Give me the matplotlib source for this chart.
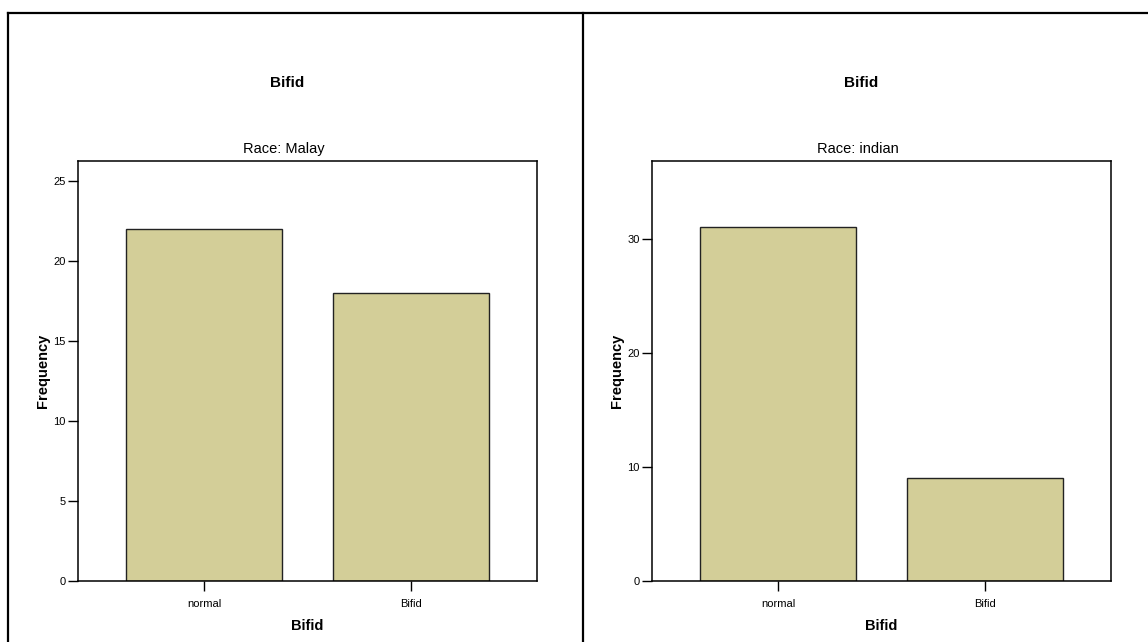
import matplotlib
matplotlib.use('Agg')
import matplotlib.pyplot as plt
from matplotlib.lines import Line2D

# data
categories = ['normal', 'Bifid']
malay = [22, 18]
indian = [31, 9]
races = ['Malay', 'indian']
y_ticks_malay = [0, 5, 10, 15, 20, 25]
y_ticks_indian = [0, 10, 20, 30]

W, H = 1148, 642
plt.rcParams['font.family'] = ['Liberation Sans', 'DejaVu Sans']

fig = plt.figure(figsize=(W / 100, H / 100), dpi=100)


def fx(px):
    return px / W


def fy(py):
    return 1 - py / H


bar_color = '#d3ce98'


def panel(x0, counts, race, yticks, ymax):
    # axes box in pixels: left, top, right, bottom
    left, top, right, bottom = x0 + 71, 161, x0 + 530, 581
    ax = fig.add_axes([fx(left), fy(bottom), fx(right - left), (bottom - top) / H])
    ax.bar(range(len(categories)), counts, width=0.75, color=bar_color,
           edgecolor='#222222', linewidth=1.0, zorder=2)
    ax.set_xlim(-0.6087, 1.6087)
    ax.set_ylim(0, ymax)
    ax.set_xticks(range(len(categories)))
    ax.set_xticklabels(categories)
    ax.set_yticks(yticks)
    ax.tick_params(axis='both', labelsize=8, length=7, width=1, color='black', pad=2)
    ax.tick_params(axis='x', pad=6)
    for s in ax.spines.values():
        s.set_linewidth(1.1)
        s.set_color('black')
    ax.set_ylabel('Frequency', fontsize=10.5, fontweight='bold', labelpad=2)
    ax.set_xlabel('Bifid', fontsize=10.5, fontweight='bold', labelpad=7)
    # titles
    fig.text(fx(x0 + 280), fy(83), 'Bifid', fontsize=11, fontweight='bold',
             ha='center', va='center')
    fig.text(fx(x0 + 277), fy(149), 'Race: ' + race, fontsize=10.5,
             ha='center', va='center')
    return ax


panel(7, malay, races[0], y_ticks_malay, 26.25)
panel(581, indian, races[1], y_ticks_indian, 36.8)

# outer frame
lw = 1.6
fig.add_artist(Line2D([fx(7.5), fx(W)], [fy(13), fy(13)], color='black', lw=lw))
fig.add_artist(Line2D([fx(7.5), fx(7.5)], [fy(13), 0], color='black', lw=lw))
fig.add_artist(Line2D([fx(582.5), fx(582.5)], [fy(13), 0], color='black', lw=lw))

fig.savefig('out.png', dpi=100)
